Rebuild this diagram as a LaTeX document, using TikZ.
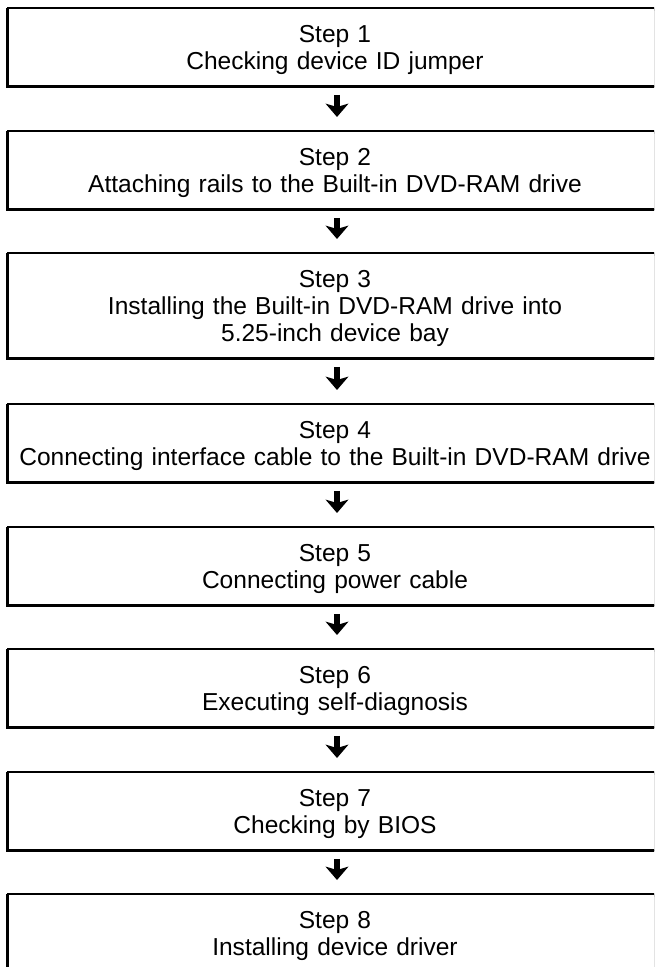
\documentclass[tikz,border=0pt]{standalone}
\usepackage{fontspec}
\setmainfont{Liberation Sans}
\usetikzlibrary{arrows.meta,calc,shadows}
\tikzset{
  stepbox/.style={draw=black, line width=1.8pt, fill=white, rectangle,
    anchor=north, minimum width=490.5pt, text width=480pt, align=center,
    inner xsep=0pt, inner ysep=12.4pt, text height=13.1pt,
    font=\fontsize{18.4pt}{20.25pt}\selectfont,
    general shadow={shadow xshift=-0.6pt, shadow yshift=-0.9pt, draw=black, line width=1.8pt, fill=black}},
  twoline/.style={stepbox, text depth=20.25pt},
  threeline/.style={stepbox, text depth=40.5pt},
  flowarrow/.style={line width=3.8pt, -{Stealth[length=10pt, width=17pt, inset=2.5pt]}}
}
\begin{document}
\begin{tikzpicture}[x=0.75pt, y=-0.75pt]
\clip (0,0) rectangle (654,967);
\fill[white] (0,0) rectangle (654,967);
\node[twoline]   (s1) at (335,7)   {Step 1\\Checking device ID jumper};
\node[twoline]   (s2) at (335,130) {Step 2\\Attaching rails to the Built-in DVD-RAM drive};
\node[threeline] (s3) at (335,252) {Step 3\\Installing the Built-in DVD-RAM drive into\\5.25-inch device bay};
\node[twoline]   (s4) at (335,403) {Step 4\\Connecting interface cable to the Built-in DVD-RAM drive};
\node[twoline]   (s5) at (335,526) {Step 5\\Connecting power cable};
\node[twoline]   (s6) at (335,648) {Step 6\\Executing self-diagnosis};
\node[twoline]   (s7) at (335,771) {Step 7\\Checking by BIOS};
\node[twoline]   (s8) at (335,893) {Step 8\\Installing device driver};
\foreach \a/\b in {s1/s2,s2/s3,s3/s4,s4/s5,s5/s6,s6/s7,s7/s8}{
  \draw[flowarrow] ($(\a.south)+(2,8)$) -- ($(\b.north)+(2,-13)$);
}
\end{tikzpicture}
\end{document}
